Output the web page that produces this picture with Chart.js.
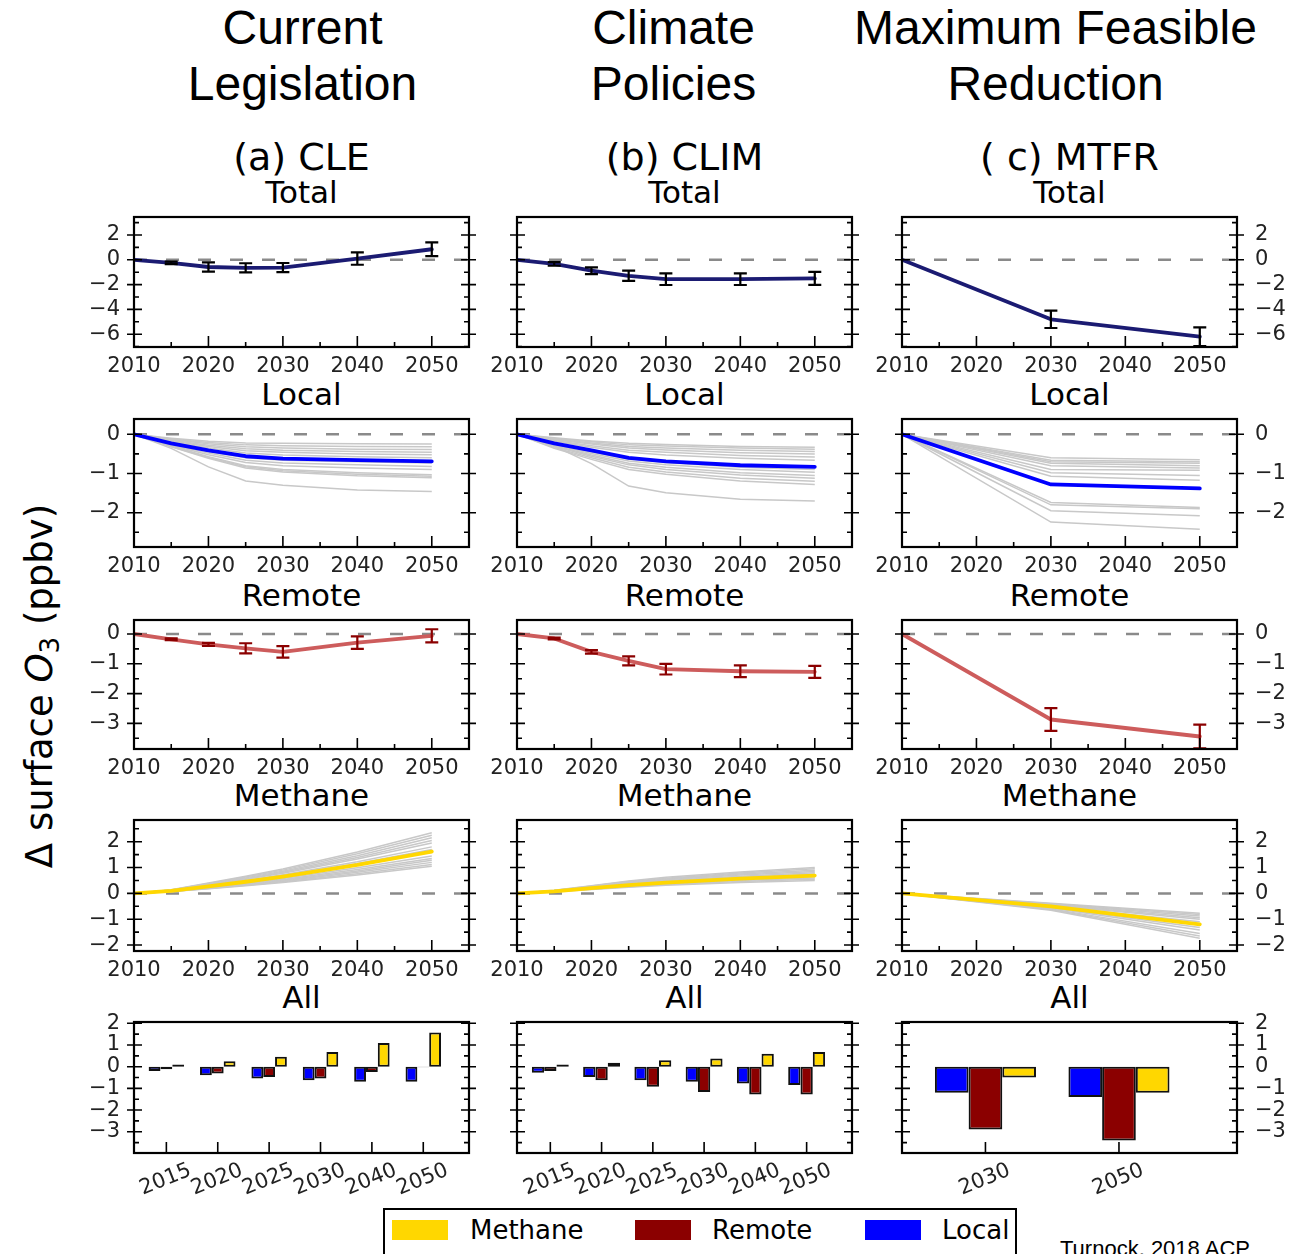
<!DOCTYPE html>
<html><head><meta charset="utf-8">
<script src="https://cdn.jsdelivr.net/npm/chart.js@4.4.1/dist/chart.umd.min.js"></script>
<style>
html,body{margin:0;padding:0;background:#fff;}
body{position:relative;width:1307px;height:1254px;overflow:hidden;}
.txt{position:absolute;white-space:nowrap;transform:translate(-50%,-50%);color:#000;line-height:1;}
.big{font-family:'Liberation Sans',Arial,sans-serif;font-size:48px;}
.sub{font-family:'DejaVu Sans',sans-serif;font-size:38px;}
.rowt{font-family:'DejaVu Sans',sans-serif;font-size:31px;}
canvas{position:absolute;}
#legend{position:absolute;left:383px;top:1208px;width:634px;height:80px;border:2px solid #000;box-sizing:border-box;background:#fff;}
#legend .sw{position:absolute;top:10px;width:56px;height:20px;}
#legend .lt{position:absolute;top:20px;transform:translateY(-50%);font-family:'DejaVu Sans',sans-serif;font-size:26px;line-height:1;color:#000;}
#ylab{position:absolute;left:42px;top:686px;transform:translate(-50%,-50%) rotate(-90deg);font-family:'DejaVu Sans',sans-serif;font-size:37px;white-space:nowrap;line-height:1;}
#cite{position:absolute;left:1060px;top:1236px;font-family:'Liberation Sans',Arial,sans-serif;font-size:22px;white-space:nowrap;}
</style></head><body>
<div id="ylab">&Delta; surface <i>O</i><sub style="font-size:26px;vertical-align:-7px">3</sub> (ppbv)</div>
<div id="legend">
  <div class="sw" style="left:7px;background:#ffd700"></div><div class="lt" style="left:85px">Methane</div>
  <div class="sw" style="left:250px;background:#8b0000"></div><div class="lt" style="left:327px">Remote</div>
  <div class="sw" style="left:480px;background:#0000ff"></div><div class="lt" style="left:557px">Local</div>
</div>
<div id="cite">Turnock, 2018 ACP</div>
<script>
// ---------------- DATA ----------------
const scenarioTitles = [["Current", "Legislation"], ["Climate", "Policies"], ["Maximum Feasible", "Reduction"]];
const panelTitles = ["(a) CLE", "(b) CLIM", "( c) MTFR"];
const rowTitles = ["Total", "Local", "Remote", "Methane", "All"];

const yearsCLE = [2010, 2015, 2020, 2025, 2030, 2040, 2050];
const yearsMTFR = [2010, 2030, 2050];
const xTickVals = [2010, 2020, 2030, 2040, 2050];
const barLabelsCLE = ["2015", "2020", "2025", "2030", "2040", "2050"];
const barLabelsMTFR = ["2030", "2050"];

const ticksTotal = [-6, -4, -2, 0, 2];
const ticksLocal = [-2, -1, 0];
const ticksRemote = [-3, -2, -1, 0];
const ticksMethane = [-2, -1, 0, 1, 2];
const ticksAll = [-3, -2, -1, 0, 1, 2];

// Total
const totalCLE = [0, -0.25, -0.58, -0.65, -0.63, 0.1, 0.85];
const totalCLEErr = [0, 0.1, 0.38, 0.37, 0.37, 0.5, 0.55];
const totalCLIM = [0, -0.33, -0.88, -1.29, -1.56, -1.56, -1.5];
const totalCLIMErr = [0, 0.15, 0.27, 0.41, 0.47, 0.47, 0.52];
const totalMTFR = [0, -4.8, -6.2];
const totalMTFRErr = [0, 0.7, 0.75];

// Local
const localCLE = [0, -0.23, -0.41, -0.56, -0.62, -0.66, -0.69];
const localCLERegions = [
  [0, -0.10, -0.18, -0.22, -0.23, -0.24, -0.25],
  [0, -0.12, -0.21, -0.27, -0.29, -0.31, -0.32],
  [0, -0.13, -0.24, -0.32, -0.35, -0.38, -0.39],
  [0, -0.15, -0.28, -0.37, -0.41, -0.44, -0.46],
  [0, -0.17, -0.31, -0.42, -0.46, -0.50, -0.52],
  [0, -0.19, -0.35, -0.48, -0.53, -0.57, -0.60],
  [0, -0.24, -0.44, -0.60, -0.66, -0.70, -0.73],
  [0, -0.26, -0.48, -0.66, -0.73, -0.78, -0.82],
  [0, -0.28, -0.52, -0.72, -0.80, -0.86, -0.90],
  [0, -0.30, -0.57, -0.80, -0.90, -0.98, -1.03],
  [0, -0.31, -0.59, -0.83, -0.93, -1.02, -1.07],
  [0, -0.32, -0.61, -0.86, -0.96, -1.06, -1.11],
  [0, -0.36, -0.83, -1.19, -1.30, -1.42, -1.46]
];
const localCLIM = [0, -0.23, -0.41, -0.60, -0.69, -0.79, -0.83];
const localCLIMRegions = [
  [0, -0.09, -0.17, -0.23, -0.26, -0.31, -0.33],
  [0, -0.11, -0.19, -0.27, -0.30, -0.35, -0.38],
  [0, -0.12, -0.22, -0.31, -0.35, -0.41, -0.44],
  [0, -0.14, -0.25, -0.35, -0.40, -0.47, -0.50],
  [0, -0.16, -0.29, -0.41, -0.46, -0.54, -0.58],
  [0, -0.18, -0.33, -0.46, -0.53, -0.61, -0.66],
  [0, -0.25, -0.45, -0.63, -0.72, -0.84, -0.90],
  [0, -0.27, -0.49, -0.68, -0.78, -0.90, -0.97],
  [0, -0.29, -0.53, -0.74, -0.84, -0.98, -1.05],
  [0, -0.31, -0.56, -0.78, -0.90, -1.04, -1.12],
  [0, -0.34, -0.60, -0.84, -0.96, -1.12, -1.20],
  [0, -0.36, -0.64, -0.90, -1.02, -1.19, -1.28],
  [0, -0.30, -0.75, -1.32, -1.49, -1.66, -1.70]
];
const localMTFR = [0, -1.28, -1.38];
const localMTFRRegions = [
  [0, -0.60, -0.65], [0, -0.66, -0.70], [0, -0.70, -0.74], [0, -0.74, -0.80],
  [0, -0.80, -0.86], [0, -0.90, -0.92], [0, -0.98, -1.05], [0, -1.07, -1.17],
  [0, -1.74, -1.87], [0, -1.80, -1.90], [0, -1.95, -2.08], [0, -2.24, -2.42]
];

// Remote
const remoteCLE = [0, -0.18, -0.35, -0.48, -0.60, -0.29, -0.06];
const remoteCLEErr = [0, 0.03, 0.05, 0.17, 0.19, 0.21, 0.22];
const remoteCLIM = [0, -0.15, -0.60, -0.90, -1.18, -1.25, -1.27];
const remoteCLIMErr = [0, 0.03, 0.06, 0.15, 0.18, 0.2, 0.2];
const remoteMTFR = [0, -2.87, -3.44];
const remoteMTFRErr = [0, 0.38, 0.40];

// Methane
const methaneCLE = [0, 0.10, 0.27, 0.45, 0.65, 1.10, 1.62];
const methaneCLERegions = [
  [0, 0.07, 0.18, 0.30, 0.42, 0.71, 1.05],
  [0, 0.07, 0.19, 0.31, 0.45, 0.76, 1.12],
  [0, 0.07, 0.20, 0.33, 0.48, 0.82, 1.20],
  [0, 0.08, 0.22, 0.36, 0.51, 0.87, 1.28],
  [0, 0.08, 0.23, 0.38, 0.54, 0.92, 1.35],
  [0, 0.09, 0.25, 0.41, 0.58, 0.99, 1.45],
  [0, 0.10, 0.29, 0.48, 0.68, 1.16, 1.70],
  [0, 0.11, 0.31, 0.50, 0.72, 1.22, 1.80],
  [0, 0.12, 0.33, 0.55, 0.78, 1.33, 1.95],
  [0, 0.12, 0.35, 0.57, 0.82, 1.39, 2.05],
  [0, 0.13, 0.37, 0.60, 0.86, 1.46, 2.15],
  [0, 0.13, 0.38, 0.63, 0.90, 1.53, 2.25],
  [0, 0.14, 0.40, 0.66, 0.94, 1.60, 2.35]
];
const methaneCLIM = [0, 0.08, 0.20, 0.32, 0.42, 0.57, 0.69];
const methaneCLIMRegions = [
  [0, 0.06, 0.15, 0.24, 0.31, 0.42, 0.50],
  [0, 0.07, 0.17, 0.26, 0.34, 0.46, 0.55],
  [0, 0.07, 0.18, 0.29, 0.37, 0.50, 0.60],
  [0, 0.08, 0.20, 0.31, 0.40, 0.54, 0.65],
  [0, 0.09, 0.23, 0.36, 0.47, 0.62, 0.75],
  [0, 0.10, 0.24, 0.38, 0.50, 0.66, 0.80],
  [0, 0.10, 0.26, 0.41, 0.53, 0.71, 0.85],
  [0, 0.11, 0.27, 0.43, 0.56, 0.75, 0.90],
  [0, 0.11, 0.29, 0.46, 0.59, 0.79, 0.95],
  [0, 0.12, 0.30, 0.48, 0.62, 0.83, 1.00]
];
const methaneMTFR = [0, -0.50, -1.20];
const methaneMTFRRegions = [
  [0, -0.38, -0.77], [0, -0.40, -0.82], [0, -0.42, -0.88], [0, -0.44, -0.94],
  [0, -0.46, -1.00], [0, -0.50, -1.10], [0, -0.52, -1.20], [0, -0.55, -1.32],
  [0, -0.57, -1.42], [0, -0.60, -1.55], [0, -0.62, -1.65], [0, -0.65, -1.74]
];

// All (bars)
const barLocalCLE = [-0.20, -0.40, -0.55, -0.62, -0.69, -0.69];
const barRemoteCLE = [-0.12, -0.32, -0.48, -0.54, -0.25, -0.03];
const barMethaneCLE = [0.10, 0.25, 0.46, 0.68, 1.09, 1.58];
const barLocalCLIM = [-0.28, -0.48, -0.63, -0.69, -0.77, -0.85];
const barRemoteCLIM = [-0.20, -0.62, -0.92, -1.17, -1.28, -1.28];
const barMethaneCLIM = [0.10, 0.18, 0.30, 0.38, 0.60, 0.68];
const barLocalMTFR = [-1.20, -1.40];
const barRemoteMTFR = [-2.90, -3.40];
const barMethaneMTFR = [-0.50, -1.20];

// ---------------- LAYOUT ----------------
const colLeft = [134, 517, 902];
const colW = 335;
const rowTop = [217, 419, 620, 820, 1022];
const rowH = [130, 128, 129, 131, 131];
const yRanges = [[-7.03, 3.45], [-2.875, 0.39], [-3.86, 0.47], [-2.23, 2.84], [-3.98, 2.06]];
const yTickSets = [ticksTotal, ticksLocal, ticksRemote, ticksMethane, ticksAll];
const PADL = 80, PADR = 80, PADT = 10, PADB = 72;

const C = {
  total: '#1b1b72', local: '#0000ff', remote: '#cd5c5c', methane: '#ffd700',
  gray: '#c8c8c8', errTotal: '#000000', errRemote: '#8b0000',
  barLocal: '#0000ff', barRemote: '#8b0000', barMethane: '#ffd700'
};
const TICKFONT = { family: 'DejaVu Sans', size: 21 };
const TICKCOLOR = '#222';
const fmt = v => (v < 0 ? '\u2212' + Math.abs(v) : String(v));

// text
const titleShift = [1, -11, -14];
scenarioTitles.forEach((lines, c) => {
  const cx = colLeft[c] + colW / 2 + titleShift[c];
  lines.forEach((t, k) => addText(t, 'big', cx, 28 + 56 * k));
});
panelTitles.forEach((t, c) => addText(t, 'sub', colLeft[c] + colW / 2, 157));
for (let r = 0; r < 5; r++) for (let c = 0; c < 3; c++) addText(rowTitles[r], 'rowt', colLeft[c] + colW / 2, rowTop[r] - 25);

function addText(t, cls, x, y) {
  const d = document.createElement('div');
  d.className = 'txt ' + cls; d.textContent = t;
  d.style.left = x + 'px'; d.style.top = y + 'px';
  document.body.appendChild(d);
}

function minorOf(major, min, max) {
  const step = major[1] - major[0], half = step / 2, out = [];
  let v = major[0] - half;
  while (v - step >= min) v -= step;
  for (; v <= max + 1e-9; v += step) if (v >= min) out.push(v);
  return out;
}

function mplPlugin(o) {
  return {
    id: 'mpl',
    beforeDatasetsDraw(chart) {
      if (!o.zero) return;
      const { ctx, chartArea: a } = chart; const y = chart.scales.y;
      const py = y.getPixelForValue(0);
      ctx.save();
      ctx.strokeStyle = '#8a8a8a'; ctx.lineWidth = 2.5; ctx.setLineDash([13, 19]);
      ctx.beginPath(); ctx.moveTo(a.left, py); ctx.lineTo(a.right, py); ctx.stroke();
      ctx.restore();
    },
    afterDatasetsDraw(chart) {
      const { ctx } = chart; const xs = chart.scales.x, ys = chart.scales.y;
      chart.data.datasets.forEach(ds => {
        if (!ds.err) return;
        ctx.save(); ctx.strokeStyle = ds.errColor; ctx.lineWidth = 2.2;
        ds.data.forEach((p, i) => {
          const e = ds.err[i]; if (!e) return;
          const px = xs.getPixelForValue(p.x);
          const y1 = ys.getPixelForValue(p.y + e), y2 = ys.getPixelForValue(p.y - e);
          ctx.beginPath();
          ctx.moveTo(px, y1); ctx.lineTo(px, y2);
          ctx.moveTo(px - 6.5, y1); ctx.lineTo(px + 6.5, y1);
          ctx.moveTo(px - 6.5, y2); ctx.lineTo(px + 6.5, y2);
          ctx.stroke();
        });
        ctx.restore();
      });
    },
    afterDraw(chart) {
      const { ctx, chartArea: a } = chart; const xs = chart.scales.x, ys = chart.scales.y;
      ctx.save(); ctx.strokeStyle = '#000'; ctx.lineWidth = 1.6; ctx.setLineDash([]);
      ctx.beginPath();
      o.yMajor.forEach(v => { const p = ys.getPixelForValue(v); ctx.moveTo(a.left - 7, p); ctx.lineTo(a.left + 8, p); ctx.moveTo(a.right - 8, p); ctx.lineTo(a.right + 7, p); });
      o.yMinor.forEach(v => { const p = ys.getPixelForValue(v); ctx.moveTo(a.left, p); ctx.lineTo(a.left + 5, p); ctx.moveTo(a.right - 5, p); ctx.lineTo(a.right, p); });
      o.xMajor.forEach(v => { const p = xs.getPixelForValue(v); ctx.moveTo(p, a.bottom); ctx.lineTo(p, a.bottom - 11); });
      o.xMinor.forEach(v => { const p = xs.getPixelForValue(v); ctx.moveTo(p, a.bottom); ctx.lineTo(p, a.bottom - 5); });
      ctx.stroke();
      ctx.lineWidth = 2.2; ctx.strokeRect(a.left, a.top, a.width, a.height);
      ctx.restore();
    }
  };
}

function makeCanvas(c, r) {
  const cv = document.createElement('canvas');
  const w = colW + PADL + PADR, h = rowH[r] + PADT + PADB;
  cv.width = w; cv.height = h;
  cv.style.left = (colLeft[c] - PADL) + 'px'; cv.style.top = (rowTop[r] - PADT) + 'px';
  cv.style.width = w + 'px'; cv.style.height = h + 'px';
  document.body.appendChild(cv);
  return cv;
}

function fitY(w) { return s => { s.width = w; s.paddingTop = 0; s.paddingBottom = 0; s.paddingLeft = 0; s.paddingRight = 0; }; }
function fitX(h) { return s => { s.height = h; s.paddingTop = 0; s.paddingBottom = 0; s.paddingLeft = 0; s.paddingRight = 0; }; }

function yScales(c, r) {
  const [mn, mx] = yRanges[r], tk = yTickSets[r];
  const base = {
    type: 'linear', min: mn, max: mx,
    afterBuildTicks: s => { s.ticks = tk.map(v => ({ value: v })); },
    grid: { display: false, drawTicks: false }, border: { display: false }
  };
  return {
    y: Object.assign({}, base, { position: 'left', afterFit: fitY(PADL),
      ticks: { display: c === 0, autoSkip: false, font: TICKFONT, color: TICKCOLOR, padding: 14, callback: fmt } }),
    y2: Object.assign({}, base, { position: 'right', afterFit: fitY(PADR),
      ticks: { display: c === 2, autoSkip: false, font: TICKFONT, color: TICKCOLOR, padding: 18, callback: fmt } })
  };
}

function lineChart(c, r, years, main, color, err, errColor, regions) {
  const cv = makeCanvas(c, r);
  const pts = arr => years.map((x, i) => ({ x, y: arr[i] }));
  const ds = [{ data: pts(main), borderColor: color, borderWidth: 3.8, pointRadius: 0, tension: 0,
    err: err, errColor: errColor, borderCapStyle: 'round', borderJoinStyle: 'round' }];
  (regions || []).forEach(g => ds.push({ data: pts(g), borderColor: C.gray, borderWidth: 1.5, pointRadius: 0, tension: 0 }));
  const [mn, mx] = yRanges[r];
  new Chart(cv.getContext('2d'), {
    type: 'line',
    data: { datasets: ds },
    options: {
      responsive: false, animation: false, devicePixelRatio: 1,
      layout: { padding: { top: PADT, left: 0, right: 0, bottom: 0 } },
      plugins: { legend: { display: false }, tooltip: { enabled: false } },
      scales: Object.assign({
        x: { type: 'linear', min: 2010, max: 2055, offset: false,
          afterBuildTicks: s => { s.ticks = xTickVals.map(v => ({ value: v })); },
          afterFit: fitX(PADB),
          grid: { display: false, drawTicks: false }, border: { display: false },
          ticks: { font: TICKFONT, color: TICKCOLOR, padding: 7, maxRotation: 0, minRotation: 0, autoSkip: false, callback: v => String(v) } }
      }, yScales(c, r))
    },
    plugins: [mplPlugin({ zero: true, yMajor: yTickSets[r], yMinor: minorOf(yTickSets[r], mn, mx),
      xMajor: xTickVals, xMinor: [2015, 2025, 2035, 2045] })]
  });
}

function barChart(c, labels, loc, rem, meth, xr, catPct) {
  const r = 4;
  const cv = makeCanvas(c, r);
  const idx = labels.map((_, i) => i);
  const pts = arr => idx.map(i => ({ x: i, y: arr[i] }));
  const mk = (arr, col) => ({ type: 'bar', data: pts(arr), backgroundColor: col, borderColor: '#111', borderWidth: 2,
    categoryPercentage: catPct, barPercentage: 1.0, borderSkipped: false });
  const [mn, mx] = yRanges[r];
  new Chart(cv.getContext('2d'), {
    type: 'bar',
    data: { datasets: [mk(loc, C.barLocal), mk(rem, C.barRemote), mk(meth, C.barMethane)] },
    options: {
      responsive: false, animation: false, devicePixelRatio: 1,
      layout: { padding: { top: PADT, left: 0, right: 0, bottom: 0 } },
      plugins: { legend: { display: false }, tooltip: { enabled: false } },
      scales: Object.assign({
        x: { type: 'linear', min: xr[0], max: xr[1], offset: false,
          afterBuildTicks: s => { s.ticks = idx.map(v => ({ value: v })); },
          afterFit: fitX(PADB),
          grid: { display: false, drawTicks: false, offset: false }, border: { display: false },
          ticks: { font: TICKFONT, color: TICKCOLOR, padding: 5, minRotation: 22, maxRotation: 22, autoSkip: false,
            labelOffset: 24, callback: v => labels[v] } }
      }, yScales(c, r))
    },
    plugins: [mplPlugin({ zero: false, yMajor: yTickSets[r], yMinor: minorOf(yTickSets[r], mn, mx),
      xMajor: idx, xMinor: [] })]
  });
}

// Row 0: Total
lineChart(0, 0, yearsCLE, totalCLE, C.total, totalCLEErr, C.errTotal);
lineChart(1, 0, yearsCLE, totalCLIM, C.total, totalCLIMErr, C.errTotal);
lineChart(2, 0, yearsMTFR, totalMTFR, C.total, totalMTFRErr, C.errTotal);
// Row 1: Local
lineChart(0, 1, yearsCLE, localCLE, C.local, null, null, localCLERegions);
lineChart(1, 1, yearsCLE, localCLIM, C.local, null, null, localCLIMRegions);
lineChart(2, 1, yearsMTFR, localMTFR, C.local, null, null, localMTFRRegions);
// Row 2: Remote
lineChart(0, 2, yearsCLE, remoteCLE, C.remote, remoteCLEErr, C.errRemote);
lineChart(1, 2, yearsCLE, remoteCLIM, C.remote, remoteCLIMErr, C.errRemote);
lineChart(2, 2, yearsMTFR, remoteMTFR, C.remote, remoteMTFRErr, C.errRemote);
// Row 3: Methane
lineChart(0, 3, yearsCLE, methaneCLE, C.methane, null, null, methaneCLERegions);
lineChart(1, 3, yearsCLE, methaneCLIM, C.methane, null, null, methaneCLIMRegions);
lineChart(2, 3, yearsMTFR, methaneMTFR, C.methane, null, null, methaneMTFRRegions);
// Row 4: All
barChart(0, barLabelsCLE, barLocalCLE, barRemoteCLE, barMethaneCLE, [-0.63, 5.89], 0.69);
barChart(1, barLabelsCLE, barLocalCLIM, barRemoteCLIM, barMethaneCLIM, [-0.65, 5.885], 0.72);
barChart(2, barLabelsMTFR, barLocalMTFR, barRemoteMTFR, barMethaneMTFR, [-0.625, 1.884], 0.757);
</script>
</body></html>
